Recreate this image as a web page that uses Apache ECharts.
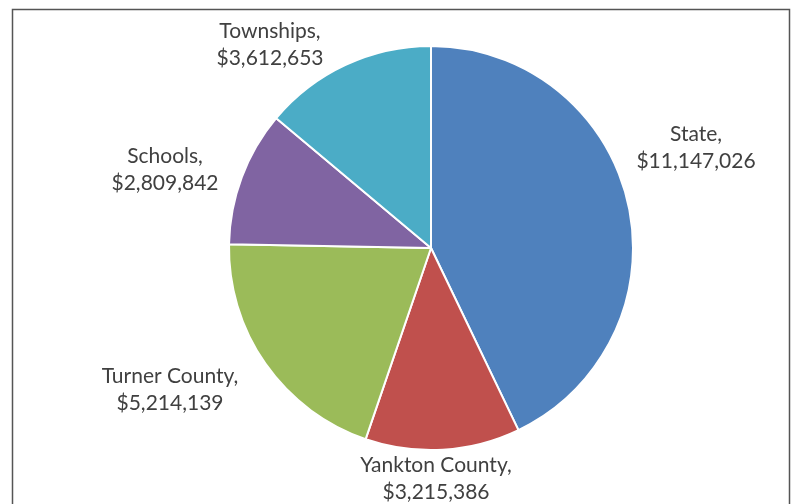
<!DOCTYPE html>
<html>
<head>
<meta charset="utf-8">
<script src="https://cdn.jsdelivr.net/npm/echarts@6/dist/echarts.min.js"></script>
<style>
  html, body { margin: 0; padding: 0; background: #fff; }
  #main { width: 793px; height: 504px; }
</style>
</head>
<body>
<div id="main"></div>
<script>
// pie data
const names = ['State', 'Yankton County', 'Turner County', 'Schools', 'Townships'];
const values = [11147026, 3215386, 5214139, 2809842, 3612653];
const colors = ['#4F81BD', '#C0504D', '#9BBB59', '#8064A2', '#4BACC6'];
// label centres (Excel-like placement)
const labelPos = [[696, 148], [436, 479], [170, 390], [165, 170], [270, 45]];

const chart = echarts.init(document.getElementById('main'));

const fmt = v => '$' + v.toLocaleString('en-US');

chart.setOption({
  backgroundColor: '#fff',
  animation: false,
  graphic: [{
    type: 'rect',
    shape: { x: 12.5, y: 9.5, width: 777, height: 520 },
    style: { fill: 'none', stroke: '#555', lineWidth: 1.5 },
    silent: true
  }],
  series: [{
    type: 'pie',
    center: [431, 248],
    radius: 202,
    startAngle: 90,
    clockwise: true,
    data: names.map((n, i) => ({
      name: n,
      value: values[i],
      itemStyle: { color: colors[i] }
    })),
    itemStyle: { borderColor: '#fff', borderWidth: 2 },
    label: {
      show: true,
      position: 'outside',
      formatter: p => p.name + ',\n' + fmt(p.value),
      fontFamily: 'Lato',
      fontSize: 21,
      lineHeight: 27,
      color: '#404040',
      align: 'center',
      overflow: 'none',
      width: 200
    },
    labelLine: { show: false },
    labelLayout: function (params) {
      const p = labelPos[params.dataIndex];
      return { x: p[0], y: p[1], align: 'center', verticalAlign: 'middle' };
    },
    emphasis: { disabled: true }
  }]
});
</script>
</body>
</html>
